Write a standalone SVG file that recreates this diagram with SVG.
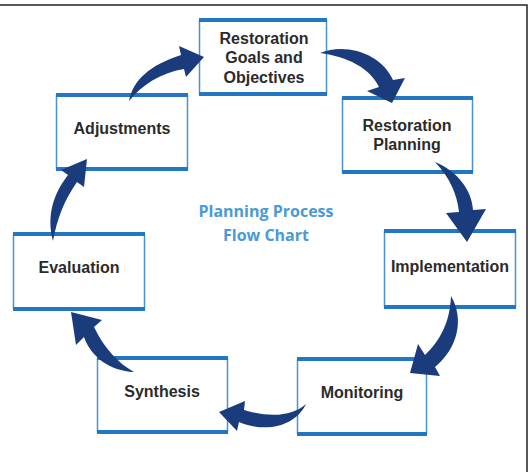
<svg xmlns="http://www.w3.org/2000/svg" width="528" height="472" viewBox="0 0 528 472">
<style>
.bg{fill:#ffffff}
.box{fill:#ffffff}
.side{stroke:#4a93d2;stroke-width:1.5;fill:none}
.tb{stroke:#2277c3;stroke-width:4;fill:none}
.lbl{font-family:"Liberation Sans",Arial,sans-serif;font-weight:bold;font-size:16px;fill:#2b2b2b;text-anchor:middle}
.title{font-family:"Open Sans","Liberation Sans",sans-serif;font-weight:bold;font-size:16px;fill:#4a9ad4;text-anchor:middle}
.arr{fill:#1a3c7c}
.frame{stroke:#222222;stroke-width:1.5;fill:none}
</style>
<rect class="bg" x="0" y="0" width="528" height="472"/>
<path class="frame" d="M0,5 H527 V472"/>
<g id="title">
<text class="title" x="266" y="217">Planning Process</text>
<text class="title" x="266" y="241">Flow Chart</text>
</g>
<g id="node-goals">
<rect class="box" x="199" y="20" width="128" height="74"/>
<path class="side" d="M199.5,20 V94 M326.5,20 V94"/>
<path class="tb" d="M199,20 H327 M199,94 H327"/>
<text class="lbl" x="264" y="44">Restoration</text>
<text class="lbl" x="264" y="63">Goals and</text>
<text class="lbl" x="264" y="83">Objectives</text>
</g>
<g id="node-planning">
<rect class="box" x="342" y="98" width="131" height="74"/>
<path class="side" d="M342.5,98 V172 M472.5,98 V172"/>
<path class="tb" d="M342,98 H473 M342,172 H473"/>
<text class="lbl" x="407" y="131">Restoration</text>
<text class="lbl" x="407" y="150">Planning</text>
</g>
<g id="node-implementation">
<rect class="box" x="384" y="231" width="132" height="76"/>
<path class="side" d="M384.5,231 V307 M515.5,231 V307"/>
<path class="tb" d="M384,231 H516 M384,307 H516"/>
<text class="lbl" x="450" y="272">Implementation</text>
</g>
<g id="node-monitoring">
<rect class="box" x="297" y="359" width="130" height="75"/>
<path class="side" d="M297.5,359 V434 M426.5,359 V434"/>
<path class="tb" d="M297,359 H427 M297,434 H427"/>
<text class="lbl" x="362" y="398">Monitoring</text>
</g>
<g id="node-synthesis">
<rect class="box" x="97" y="358" width="131" height="74"/>
<path class="side" d="M97.5,358 V432 M227.5,358 V432"/>
<path class="tb" d="M97,358 H228 M97,432 H228"/>
<text class="lbl" x="162" y="397">Synthesis</text>
</g>
<g id="node-evaluation">
<rect class="box" x="13" y="234" width="132" height="75"/>
<path class="side" d="M13.5,234 V309 M144.5,234 V309"/>
<path class="tb" d="M13,234 H145 M13,309 H145"/>
<text class="lbl" x="79" y="273">Evaluation</text>
</g>
<g id="node-adjustments">
<rect class="box" x="56" y="95" width="132" height="74"/>
<path class="side" d="M56.5,95 V169 M187.5,95 V169"/>
<path class="tb" d="M56,95 H188 M56,169 H188"/>
<text class="lbl" x="122" y="134">Adjustments</text>
</g>
<g id="connectors">
<path class="arr" d="M129,101 C133,80 150,65 181,55 L179,46 L204,57 L186,77 L184,69 C160,73 142,85 129,101 Z"/>
<path class="arr" d="M320,53 C346,42 382,54 393,80 L405,78 L392,103 L367,91 L379,87 C370,68 348,57 320,53 Z"/>
<path class="arr" d="M435,162 C457,171 472,190 473,210 L486,209 L467,242 L446,213 L459,212 C457,194 450,178 435,162 Z"/>
<path class="arr" d="M451,296 C465,320 457,349 435,367 L440,376 L410,373 L418,344 L425,355 C440,341 450,322 451,296 Z"/>
<path class="arr" d="M306,404 C293,416 270,418 244,410 L245,401 L219,412 L237,431 L239,422 C268,434 296,425 306,404 Z"/>
<path class="arr" d="M134,372 C110,371 91,357 84,337 L76,345 L71,312 L102,320 L94,327 C104,348 118,363 134,372 Z"/>
<path class="arr" d="M53,241 C46,215 54,193 68,175 L61,170 L87,159 L84,187 L77,182 C65,199 57,218 53,241 Z"/>
</g>
</svg>
